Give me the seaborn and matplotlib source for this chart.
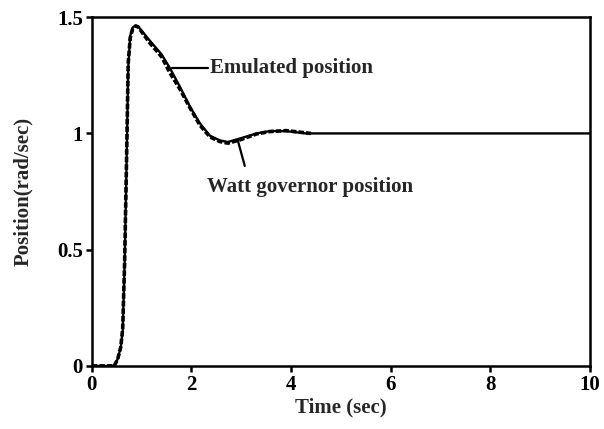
import matplotlib
matplotlib.use("Agg")
import matplotlib.pyplot as plt
import seaborn as sns
import pandas as pd

# Emulated position (solid curve)
t_emulated = [0.0, 0.45, 0.52, 0.58, 0.62, 0.66, 0.70, 0.73, 0.77, 0.82, 0.88, 0.93,
              1.16, 1.40, 1.57, 1.77, 1.97, 2.17, 2.37, 2.57, 2.73, 2.97,
              3.31, 3.57, 3.90, 4.30, 5.0, 10.0]
y_emulated = [0.0, 0.0, 0.03, 0.08, 0.15, 0.45, 0.90, 1.28, 1.42, 1.455, 1.464, 1.46,
              1.40, 1.34, 1.28, 1.20, 1.115, 1.043, 0.99, 0.970, 0.963, 0.978,
              1.0, 1.01, 1.01, 1.0, 1.0, 1.0]

# Watt governor position (measured, dotted, overlapping)
t_watt = [0.0, 0.45, 0.52, 0.58, 0.62, 0.66, 0.70, 0.73, 0.77, 0.82, 0.88, 0.93,
          1.16, 1.40, 1.57, 1.77, 1.97, 2.17, 2.37, 2.57, 2.73, 2.97,
          3.31, 3.57, 3.90, 4.40]
y_watt = [0.0, 0.0, 0.03, 0.08, 0.16, 0.46, 0.92, 1.30, 1.41, 1.45, 1.462, 1.458,
          1.39, 1.33, 1.26, 1.19, 1.11, 1.035, 0.985, 0.965, 0.958, 0.972,
          0.998, 1.008, 1.012, 1.0]

x_ticks = [0, 2, 4, 6, 8, 10]
y_ticks = [0, 0.5, 1, 1.5]
y_ticklabels = ["0", "0.5", "1", "1.5"]

sns.set_style("white")
plt.rcParams["font.family"] = ["Liberation Serif", "DejaVu Serif"]
plt.rcParams["font.weight"] = "bold"

FS = 15

fig = plt.figure(figsize=(6.04, 4.29), dpi=100)
ax = fig.add_axes([0.152, 0.147, 0.825, 0.813])

df_e = pd.DataFrame({"t": t_emulated, "y": y_emulated})
df_w = pd.DataFrame({"t": t_watt, "y": y_watt})

sns.lineplot(data=df_w, x="t", y="y", ax=ax, color="black", lw=2.6,
             linestyle=(0, (1.5, 0.6)), sort=False)
sns.lineplot(data=df_e, x="t", y="y", ax=ax, color="black", lw=1.7, sort=False)

ax.set_xlim(0, 10)
ax.set_ylim(0, 1.5)
ax.set_xticks(x_ticks)
ax.set_xticklabels([str(v) for v in x_ticks])
ax.set_yticks(y_ticks)
ax.set_yticklabels(y_ticklabels)

for s in ax.spines.values():
    s.set_visible(True)
    s.set_color("black")
    s.set_linewidth(1.8)

ax.tick_params(axis="both", which="both", direction="out", length=4.5, width=1.8,
               labelsize=FS, colors="black", bottom=True, left=True, pad=2)
for lab in ax.get_xticklabels() + ax.get_yticklabels():
    lab.set_fontweight("bold")

ax.set_xlabel("Time (sec)", fontsize=FS, fontweight="bold", labelpad=2)
ax.set_ylabel("Position(rad/sec)", fontsize=FS, fontweight="bold", labelpad=17)

# annotations
ax.plot([1.6, 2.33], [1.28, 1.28], color="black", lw=1.6)
ax.text(2.38, 1.28, "Emulated position", fontsize=FS, fontweight="bold",
        va="center", ha="left")
ax.plot([2.93, 3.07], [0.97, 0.86], color="black", lw=1.6)
ax.text(2.31, 0.77, "Watt governor position", fontsize=FS, fontweight="bold",
        va="center", ha="left")

fig.savefig("out.png", dpi=100)
